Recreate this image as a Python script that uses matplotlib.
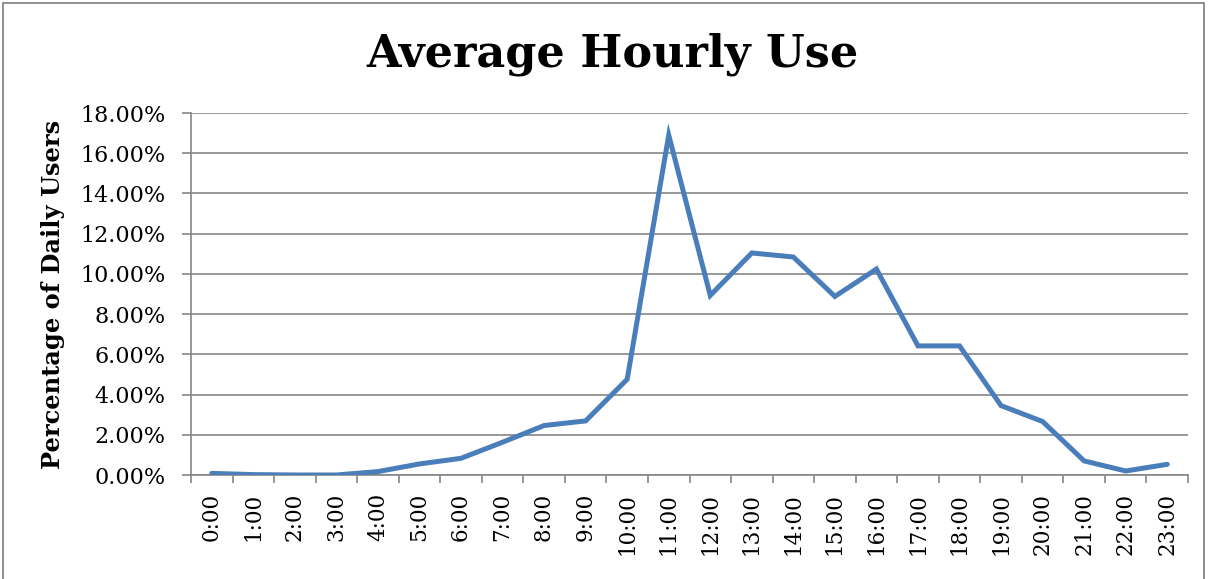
import numpy as np
import matplotlib
matplotlib.use("Agg")
import matplotlib.pyplot as plt
from matplotlib.patches import Rectangle
from matplotlib.ticker import FuncFormatter

# Data (percentage of daily users per hour)
hours = [f"{h}:00" for h in range(24)]
usage_pct = [0.08, 0.02, 0.0, 0.0, 0.17, 0.55, 0.83, 1.63, 2.46, 2.69,
             4.76, 16.9, 8.93, 11.04, 10.84, 8.88, 10.24, 6.42, 6.42, 3.45,
             2.66, 0.70, 0.20, 0.53]
y_ticks = [0, 2, 4, 6, 8, 10, 12, 14, 16, 18]

serif = ["DejaVu Serif"]
grid_color = "#868686"
line_color = "#4A7EBB"

fig = plt.figure(figsize=(12.1, 5.79), dpi=100)
ax = fig.add_axes([191 / 1210, 1 - 475 / 579, (1188 - 191) / 1210, (475 - 113) / 579])

x = np.arange(len(hours))
ax.plot(x, usage_pct, color=line_color, linewidth=3.6, solid_joinstyle="miter",
        solid_capstyle="round", zorder=3)

ax.set_xlim(-0.5, len(hours) - 0.5)
ax.set_ylim(0, 18)
ax.set_yticks(y_ticks)
ax.yaxis.set_major_formatter(FuncFormatter(lambda v, _: f"{v:.2f}%"))
ax.yaxis.grid(True, color=grid_color, linewidth=1.2)
ax.set_axisbelow(True)

# category labels centred, tick marks between categories
ax.set_xticks(x)
ax.set_xticklabels(hours, rotation=90, family=serif, fontsize=15.5)
ax.set_xticks(np.arange(-0.5, len(hours)), minor=True)
ax.tick_params(axis="x", which="major", length=0, pad=13)
ax.tick_params(axis="x", which="minor", length=6, color=grid_color, width=1.2)
ax.tick_params(axis="y", length=6.5, color=grid_color, width=1.2, pad=12)
for lbl in ax.get_yticklabels():
    lbl.set_family(serif)
    lbl.set_fontsize(16)

for side in ["top", "right"]:
    ax.spines[side].set_visible(False)
for side in ["left", "bottom"]:
    ax.spines[side].set_color(grid_color)
    ax.spines[side].set_linewidth(1.2)

ax.set_ylabel("Percentage of Daily Users", family=serif, fontsize=17.4,
              fontweight="bold")
ax.yaxis.set_label_coords(-0.126, 0.5)

fig.text(612 / 1210, 1 - 67 / 579, "Average Hourly Use", ha="center", va="baseline",
         family=serif, fontsize=32, fontweight="bold")

# outer chart border
fig.patches.append(Rectangle((3 / 1210, -0.01), 1201 / 1210, 1 - 3 / 579 + 0.01,
                             transform=fig.transFigure, fill=False,
                             edgecolor="#868686", linewidth=1.3))

fig.savefig("out.png", dpi=100)
plt.close(fig)
